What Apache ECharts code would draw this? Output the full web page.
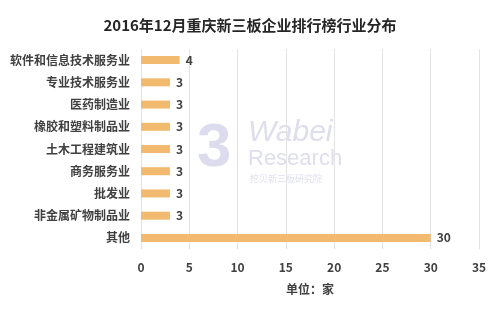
<!DOCTYPE html>
<html>
<head>
<meta charset="utf-8">
<script src="https://cdn.jsdelivr.net/npm/echarts@6/dist/echarts.min.js"></script>
<style>html,body{margin:0;padding:0;background:#fff}#c{width:500px;height:312px}</style>
</head>
<body>
<div id="c"></div>
<script>
const titleText = '2016年12月重庆新三板企业排行榜行业分布';
const categories = ['软件和信息技术服务业','专业技术服务业','医药制造业','橡胶和塑料制品业','土木工程建筑业','商务服务业','批发业','非金属矿物制品业','其他'];
const values = [4,3,3,3,3,3,3,3,30];
const unitLabel = '单位：家';

const chart = echarts.init(document.getElementById('c'));
const font = '"Noto Sans CJK SC", "Noto Sans", sans-serif';
chart.setOption({
  animation: false,
  backgroundColor: '#fff',
  title: {
    text: titleText, left: 'center', top: 13,
    textStyle: {fontFamily: font, fontSize: 15, fontWeight: 'bold', color: '#262626'}
  },
  graphic: [
    {type: 'text', left: 248, top: 118, style: {text: 'Wabei', fontFamily: 'Liberation Sans, sans-serif', fontStyle: 'italic', fontSize: 30, fill: 'rgba(160,160,200,0.35)'}},
    {type: 'text', left: 248, top: 148, style: {text: 'Research', fontFamily: 'Liberation Sans, sans-serif', fontSize: 22, fill: 'rgba(160,160,200,0.35)'}},
    {type: 'text', left: 250, top: 174, style: {text: '挖贝新三板研究院', fontFamily: font, fontSize: 9, fill: 'rgba(160,160,200,0.35)'}},
    {type: 'text', left: 197, top: 118, style: {text: '3', fontFamily: 'Liberation Sans, sans-serif', fontWeight: 'bold', fontSize: 62, fill: 'rgba(140,140,200,0.3)'}}
  ],
  grid: {left: 141, right: 21, top: 49, bottom: 63, containLabel: false},
  xAxis: {
    type: 'value', min: 0, max: 35, interval: 5,
    name: unitLabel, nameLocation: 'middle', nameGap: 34,
    nameTextStyle: {fontFamily: font, fontSize: 12, fontWeight: 'bold', color: '#404040'},
    axisLine: {show: false}, axisTick: {show: false},
    axisLabel: {fontFamily: font, fontSize: 12, fontWeight: 'bold', color: '#404040', margin: 12},
    splitLine: {show: true, lineStyle: {color: '#e3e3e3', width: 1}}
  },
  yAxis: {
    type: 'category', data: categories, inverse: true,
    axisLine: {show: false}, axisTick: {show: false},
    axisLabel: {fontFamily: font, fontSize: 12, fontWeight: 'bold', color: '#404040', margin: 11}
  },
  series: [{
    type: 'bar', data: values, barWidth: 8,
    itemStyle: {color: '#F2BA6E'},
    label: {show: true, position: 'right', distance: 6, fontFamily: font, fontSize: 12, fontWeight: 'bold', color: '#404040'}
  }]
});
</script>
</body>
</html>
